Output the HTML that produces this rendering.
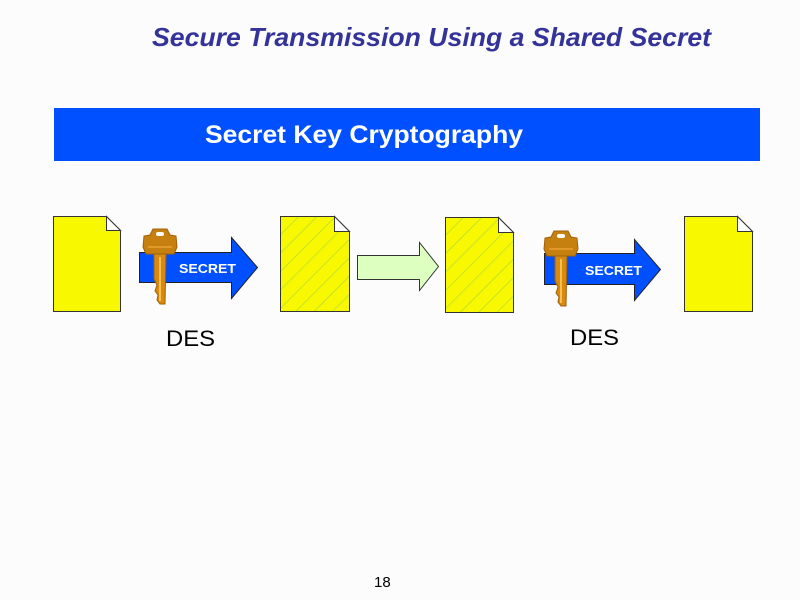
<!DOCTYPE html>
<html><head><meta charset="utf-8"><style>
html,body{margin:0;padding:0;background:#fcfcfc;}
svg{display:block;}
text{font-family:"Liberation Sans",Arial,sans-serif;}
</style></head><body>
<svg width="800" height="600" viewBox="0 0 800 600" xmlns="http://www.w3.org/2000/svg">
<defs>
<pattern id="h" patternUnits="userSpaceOnUse" width="13" height="13" patternTransform="rotate(45)">
<rect width="13" height="13" fill="#f8f800"/>
<line x1="0" y1="0" x2="0" y2="13" stroke="#a8d840" stroke-width="1.2"/>
</pattern>
<g id="key">
<path d="M10 2 L24 2 L27 8 L33 9 L34 20 L31 27 L3 27 L0 20 L1 9 L7 8 Z" fill="#c68010" stroke="#a06008" stroke-width="1"/>
<rect x="13" y="5" width="8" height="4" rx="2" fill="#fcfcfc"/>
<path d="M5 20 L29 20" stroke="#e8a030" stroke-width="1.5"/>
<path d="M11 27 L23 27 L22 77 L17 77 L14 73 L15 68 L12 64 L14 58 L11 52 Z" fill="#d88a10" stroke="#a06008" stroke-width="1"/>
<path d="M17 30 L17 74" stroke="#f8c050" stroke-width="2"/>
</g>
</defs>
<text x="152" y="46" font-size="26" font-weight="bold" font-style="italic" fill="#333399" textLength="559" lengthAdjust="spacingAndGlyphs">Secure Transmission Using a Shared Secret</text>
<rect x="54" y="108" width="706" height="53" fill="#0050ff"/>
<text x="205" y="143" font-size="25" font-weight="bold" fill="#ffffff" textLength="318" lengthAdjust="spacingAndGlyphs">Secret Key Cryptography</text>

<path d="M53.5 216.5 H106.5 L120.5 230.5 V311.5 H53.5 Z" fill="#f8f800" stroke="#333" stroke-width="1"/>
<path d="M106.5 216.5 V230.5 H120.5 Z" fill="#fff" stroke="#333" stroke-width="1"/>
<path d="M139.5 252.5 H231.5 V237.5 L257.5 267.5 L231.5 298.5 V282.5 H139.5 Z" fill="#0050ff" stroke="#222" stroke-width="1"/>
<text x="179" y="273" font-size="13" font-weight="bold" fill="#fff" textLength="57" lengthAdjust="spacingAndGlyphs">SECRET</text>
<use href="#key" x="143" y="227"/>

<path d="M280.5 216.5 H334.5 L349.5 231.5 V311.5 H280.5 Z" fill="url(#h)" stroke="#333" stroke-width="1"/>
<path d="M334.5 216.5 V231.5 H349.5 Z" fill="#fff" stroke="#333" stroke-width="1"/>
<path d="M357.5 255.5 H419.5 V242.5 L438.5 266.5 L419.5 290.5 V279.5 H357.5 Z" fill="#ddffc0" stroke="#333" stroke-width="1"/>

<path d="M445.5 217.5 H498.5 L513.5 232.5 V312.5 H445.5 Z" fill="url(#h)" stroke="#333" stroke-width="1"/>
<path d="M498.5 217.5 V232.5 H513.5 Z" fill="#fff" stroke="#333" stroke-width="1"/>
<path d="M544.5 253.5 H634.5 V239.5 L660.5 269.5 L634.5 300.5 V284.5 H544.5 Z" fill="#0050ff" stroke="#222" stroke-width="1"/>
<text x="585" y="275" font-size="13" font-weight="bold" fill="#fff" textLength="57" lengthAdjust="spacingAndGlyphs">SECRET</text>
<use href="#key" x="544" y="229"/>

<path d="M684.5 216.5 H737.5 L752.5 231.5 V311.5 H684.5 Z" fill="#f8f800" stroke="#333" stroke-width="1"/>
<path d="M737.5 216.5 V231.5 H752.5 Z" fill="#fff" stroke="#333" stroke-width="1"/>

<text x="166" y="346" font-size="22" fill="#000" textLength="49" lengthAdjust="spacingAndGlyphs">DES</text>
<text x="570" y="345" font-size="22" fill="#000" textLength="49" lengthAdjust="spacingAndGlyphs">DES</text>
<text x="374" y="587" font-size="15" fill="#000">18</text>
</svg>
</body></html>
